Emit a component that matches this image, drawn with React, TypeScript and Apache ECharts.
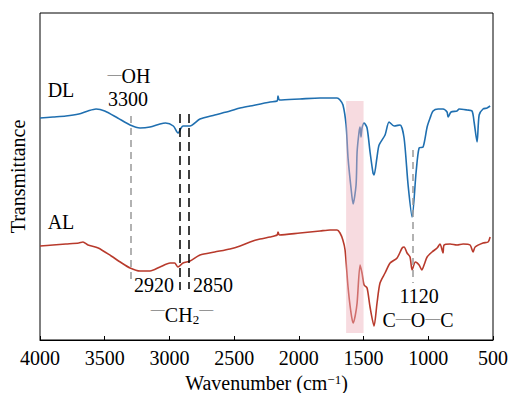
import React, { useEffect, useRef } from "react";
import * as echarts from "echarts";

const dlWave = [4000, 3900, 3800, 3700, 3630, 3567, 3500, 3400, 3304, 3227, 3150, 3073, 3030, 2970, 2934, 2910, 2895, 2841, 2764, 2650, 2532, 2454, 2377, 2222, 2168, 2161, 2150, 1991, 1836, 1705, 1682, 1659, 1635, 1620, 1597, 1581, 1558, 1550, 1535, 1527, 1520, 1512, 1496, 1473, 1450, 1427, 1419, 1396, 1380, 1334, 1303, 1264, 1218, 1187, 1156, 1125, 1094, 1071, 1040, 1009, 986, 963, 924, 886, 855, 847, 824, 778, 762, 700, 662, 646, 623, 607, 577, 546, 522];
const dlValue = [222, 223, 224, 226, 229, 231, 229, 222, 215, 212, 213, 216, 217, 214, 207, 212, 214, 214, 221, 225, 229, 232, 234, 238, 239, 244, 240, 241, 242, 242, 240, 235, 215, 182, 152, 136, 155, 188, 208, 213, 203, 212, 217, 212, 188, 167, 165, 183, 195, 205, 218, 214, 215, 202, 155, 123, 168, 192, 193, 213, 222, 229, 231, 231, 228, 223, 228, 229, 231, 230, 229, 218, 198, 225, 231, 232, 234];

const alWave = [4000, 3900, 3800, 3700, 3668, 3629, 3550, 3450, 3380, 3304, 3227, 3150, 3073, 2995, 2960, 2934, 2895, 2841, 2764, 2650, 2532, 2454, 2377, 2300, 2222, 2168, 2161, 2150, 1991, 1836, 1759, 1705, 1682, 1660, 1643, 1620, 1600, 1581, 1565, 1550, 1527, 1512, 1496, 1473, 1450, 1419, 1396, 1373, 1334, 1295, 1241, 1202, 1187, 1164, 1141, 1125, 1100, 1071, 1050, 1030, 1009, 971, 932, 909, 886, 878, 832, 778, 731, 677, 654, 638, 577, 538, 522];
const alValue = [94, 95, 96, 97, 98, 95, 92, 84, 78, 72, 69, 69, 73, 77, 77, 73, 77, 79, 85, 88, 91, 94, 98, 101, 103, 105, 108, 105, 107, 109, 110, 110, 107, 100, 90, 53, 30, 17, 24, 37, 75, 67, 55, 52, 33, 14, 37, 57, 67, 77, 82, 92, 93, 87, 83, 70, 78, 75, 70, 76, 83, 88, 92, 96, 87, 95, 96, 95, 96, 95, 88, 93, 97, 98, 103];

const xTickInterval = 500;
const bandRange = [1635, 1500];
const markers = [
  { wave: 3300, from: 224, to: 57, kind: "gray" },
  { wave: 2920, from: 226, to: 50, kind: "black" },
  { wave: 2850, from: 226, to: 51, kind: "black" },
  { wave: 1120, from: 190, to: 57, kind: "gray" },
];

const FONT = "Liberation Serif";

export default function App() {
  const ref = useRef<HTMLDivElement>(null);
  useEffect(() => {
    if (!ref.current) return;
    const chart = echarts.init(ref.current, null, { renderer: "svg" });
    const dl = dlWave.map((w, i) => [w, dlValue[i]]);
    const al = alWave.map((w, i) => [w, alValue[i]]);
    const txt = (text: string, x: number, y: number, extra: any = {}) => ({
      type: "text",
      x,
      y,
      z: 100,
      style: {
        text,
        fontFamily: FONT,
        fontSize: 20,
        fill: "#000",
        align: "center",
        verticalAlign: "middle",
        ...extra,
      },
    });
    const rich = {
      t: { fontFamily: FONT, fontSize: 20, verticalAlign: "middle", fill: "#000" },
      d1: { fontFamily: FONT, fontSize: 14, verticalAlign: "middle", fill: "#444", padding: [0, 0, 3, 0] },
      d2: { fontFamily: FONT, fontSize: 14, verticalAlign: "middle", fill: "#444", padding: [0, 0, 12, 0] },
      d3: { fontFamily: FONT, fontSize: 15, verticalAlign: "middle", fill: "#444", padding: [0, 0, 5, 0] },
      s: { fontFamily: FONT, fontSize: 13, verticalAlign: "middle", fill: "#000", padding: [8, 0, 0, 0] },
    };
    const option: any = {
      animation: false,
      textStyle: { fontFamily: FONT },
      grid: {
        left: 40,
        right: 18,
        top: 13,
        bottom: 53,
        show: true,
        borderColor: "#000",
        borderWidth: 1,
        containLabel: false,
        outerBoundsMode: "none",
      },
      xAxis: {
        type: "value",
        inverse: true,
        min: 500,
        max: 4000,
        interval: xTickInterval,
        axisLine: { show: true, lineStyle: { color: "#000", width: 1 } },
        axisTick: { show: true, inside: true, length: 4, lineStyle: { color: "#000" } },
        axisLabel: { color: "#000", fontFamily: FONT, fontSize: 20, margin: 8, formatter: (v: number) => String(v) },
        splitLine: { show: false },
        name: "Wavenumber (cm{sup|−1})",
        nameLocation: "middle",
        nameGap: 33,
        nameTextStyle: {
          color: "#000",
          fontFamily: FONT,
          fontSize: 20,
          rich: { sup: { fontFamily: FONT, fontSize: 13, lineHeight: 14, verticalAlign: "top", color: "#000" } },
        },
      },
      yAxis: {
        type: "value",
        min: 0,
        max: 327,
        axisLine: { show: false },
        axisTick: { show: false },
        axisLabel: { show: false },
        splitLine: { show: false },
        name: "Transmittance",
        nameLocation: "middle",
        nameGap: 12,
        nameTextStyle: { color: "#000", fontFamily: FONT, fontSize: 20 },
      },
      series: [
        {
          name: "DL",
          type: "line",
          data: dl,
          showSymbol: false,
          smooth: 0.25,
          lineStyle: { color: "#1f6fb0", width: 1.6 },
          z: 2,
          markArea: {
            silent: true,
            z: 5,
            itemStyle: { color: "rgba(237,175,187,0.45)" },
            data: [[{ xAxis: bandRange[0], yAxis: 7 }, { xAxis: bandRange[1], yAxis: 239 }]],
          },
          markLine: {
            silent: true,
            symbol: "none",
            label: { show: false },
            data: markers.map((m) => [
              {
                coord: [m.wave, m.from],
                lineStyle: {
                  color: m.kind === "gray" ? "#999" : "#000",
                  type: m.kind === "gray" ? [7, 5] : [9, 5],
                  width: 1.5,
                },
              },
              { coord: [m.wave, m.to] },
            ]),
          },
        },
        {
          name: "AL",
          type: "line",
          data: al,
          showSymbol: false,
          smooth: 0.25,
          lineStyle: { color: "#b83a2c", width: 1.6 },
          z: 2,
        },
      ],
      graphic: [
        txt("DL", 61, 90),
        txt("AL", 61, 222),
        txt("{d1|—}{t|OH}", 129, 76, { rich }),
        txt("3300", 128, 99),
        txt("2920", 154, 285),
        txt("2850", 213, 285),
        txt("{d2|—}{t|CH}{s|2}{d2|—}", 182, 315, { rich }),
        txt("1120", 419, 296),
        txt("{t|C}{d3|—}{t|O}{d3|—}{t|C}", 418, 320, { rich }),
      ],
    };
    chart.setOption(option);
    return () => chart.dispose();
  }, []);
  return <div ref={ref} style={{ position: "absolute", left: 0, top: 0, width: 511, height: 393 }} />;
}
